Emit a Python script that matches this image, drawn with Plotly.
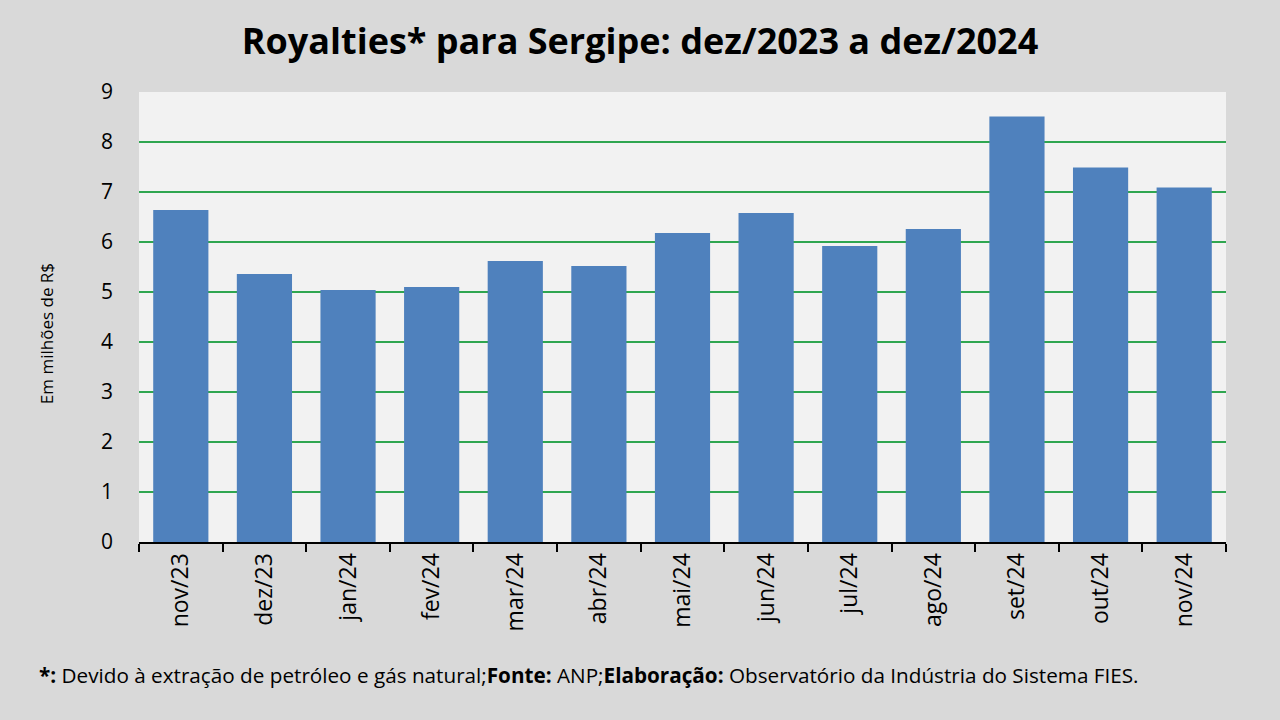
import plotly.graph_objects as go

# dados (milhoes de R$)
meses = ["nov/23", "dez/23", "jan/24", "fev/24", "mar/24", "abr/24", "mai/24",
         "jun/24", "jul/24", "ago/24", "set/24", "out/24", "nov/24"]
royalties = [6.64, 5.36, 5.04, 5.10, 5.62, 5.52, 6.18, 6.58, 5.92, 6.26, 8.51, 7.49, 7.09]
y_ticks = [0, 1, 2, 3, 4, 5, 6, 7, 8, 9]

titulo = "<b>Royalties* para Sergipe: dez/2023 a dez/2024</b>"
titulo_y = "Em milhões de R$"
rodape = ("<b>*:</b> Devido à extração de petróleo e gás natural;<b>Fonte:</b> ANP;"
          "<b>Elaboração:</b> Observatório da Indústria do Sistema FIES.")

fonte = "Open Sans, sans-serif"

fig = go.Figure()
fig.add_trace(go.Bar(
    x=meses, y=royalties,
    marker=dict(color="#4F81BD", line=dict(width=0)),
    hoverinfo="skip",
))

fig.update_layout(
    width=1280, height=720,
    margin=dict(l=139, r=54, t=92, b=178),
    paper_bgcolor="#D9D9D9",
    plot_bgcolor="#F2F2F2",
    bargap=0.34,
    showlegend=False,
    font=dict(family=fonte, color="#000000"),
    title=dict(text=titulo, x=0.5, xanchor="center", y=0.942, yanchor="middle",
               font=dict(size=36, family=fonte, color="#000000")),
)

fig.update_xaxes(
    showgrid=False,
    showline=True, linecolor="#000000", linewidth=2,
    ticks="outside", tickson="boundaries", ticklen=8, tickwidth=2, tickcolor="#000000",
    tickangle=-90,
    tickfont=dict(size=23, family=fonte),
)

fig.update_yaxes(
    range=[0, 9],
    tickvals=y_ticks,
    showgrid=True, gridcolor="#2FA650", gridwidth=2,
    zeroline=False,
    showline=False,
    ticks="",
    ticklabelstandoff=25,
    tickfont=dict(size=21, family=fonte),
)

# titulo do eixo y como anotacao, um pouco abaixo do centro (igual ao original)
fig.add_annotation(
    text=titulo_y, xref="paper", yref="paper", x=-0.0856, y=0.464,
    xanchor="center", yanchor="middle", textangle=-90, showarrow=False,
    font=dict(size=17, family=fonte, color="#000000"),
)

fig.add_annotation(
    text=rodape, xref="paper", yref="paper", x=-0.094, y=-0.295,
    xanchor="left", yanchor="middle", showarrow=False,
    font=dict(size=20.7, family=fonte, color="#000000"),
)

# tira a margem do body para o grafico ficar no canto da janela
fig.write_html("out.html", config={"displayModeBar": False},
               post_script="document.body.style.margin='0';")
